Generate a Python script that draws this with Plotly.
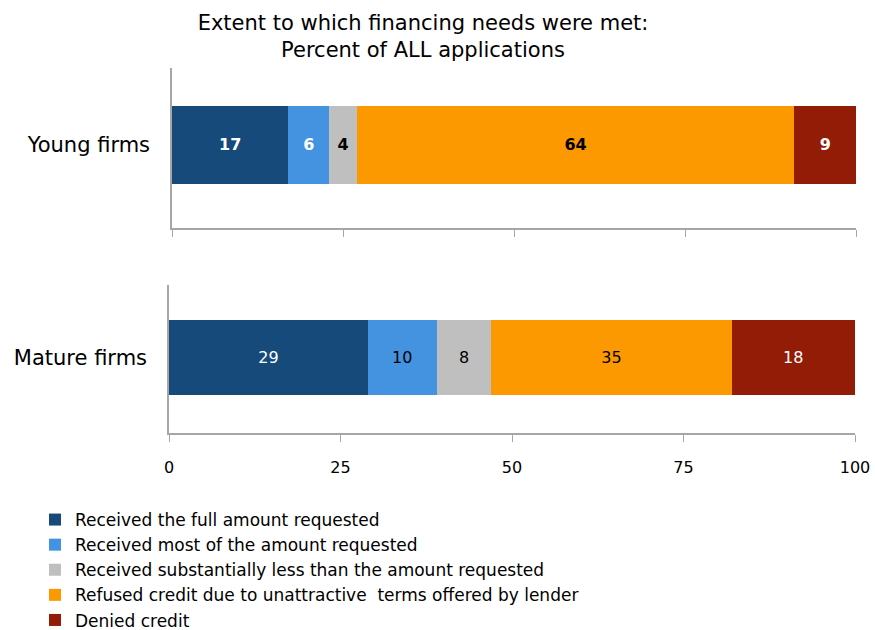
import plotly.graph_objects as go
from plotly.subplots import make_subplots

# Financing outcomes, percent of all applications
outcomes = [
    "Received the full amount requested",
    "Received most of the amount requested",
    "Received substantially less than the amount requested",
    "Refused credit due to unattractive  terms offered by lender",
    "Denied credit",
]
young_firms = [17, 6, 4, 64, 9]
mature_firms = [29, 10, 8, 35, 18]
x_ticks = [0, 25, 50, 75, 100]

colors = ["#164A7B", "#4393E0", "#BFBFBF", "#FD9900", "#921C06"]
young_text_colors = ["white", "white", "black", "black", "white"]
mature_text_colors = ["white", "black", "black", "black", "white"]

FONT = "DejaVu Sans"
W, H = 875, 630

fig = make_subplots(rows=2, cols=1)

for i, name in enumerate(outcomes):
    fig.add_trace(
        go.Bar(
            x=[young_firms[i]], y=["Young firms"], orientation="h",
            name=name, marker=dict(color=colors[i], line=dict(width=0)),
            width=0.4875, text=[young_firms[i]],
            texttemplate="<b>%{text}</b>", textposition="inside",
            insidetextanchor="middle", textangle=0,
            textfont=dict(family=FONT, size=16, color=young_text_colors[i]),
            legendgroup=f"g{i}", showlegend=True, hoverinfo="skip",
        ),
        row=1, col=1,
    )
    fig.add_trace(
        go.Bar(
            x=[mature_firms[i]], y=["Mature firms"], orientation="h",
            name=name, marker=dict(color=colors[i], line=dict(width=0)),
            width=0.507, text=[mature_firms[i]],
            texttemplate="%{text}", textposition="inside",
            insidetextanchor="middle", textangle=0,
            textfont=dict(family=FONT, size=16, color=mature_text_colors[i]),
            legendgroup=f"g{i}", showlegend=False, hoverinfo="skip",
        ),
        row=2, col=1,
    )


def px_x(p):
    return p / W


def px_y(p):
    return 1 - p / H


axis_common = dict(
    range=[0, 100], tickvals=x_ticks, ticks="outside", ticklen=7,
    tickcolor="#A6A6A6", showline=True, linecolor="#A6A6A6", linewidth=1.5,
    showgrid=False, zeroline=False, fixedrange=True, automargin=False,
)
yaxis_common = dict(
    showline=True, linecolor="#A6A6A6", linewidth=1.5, ticks="",
    showgrid=False, zeroline=False, ticklabelstandoff=16, automargin=False,
    tickfont=dict(family=FONT, size=21, color="black"), fixedrange=True,
)
fig.update_layout(
    xaxis=dict(axis_common, domain=[px_x(172), px_x(856)], showticklabels=False),
    xaxis2=dict(axis_common, domain=[px_x(169), px_x(855)], showticklabels=True,
                ticklabelstandoff=12,
                tickfont=dict(family=FONT, size=16, color="black")),
    yaxis=dict(yaxis_common, domain=[px_y(228), px_y(68)], range=[-0.519, 0.481]),
    yaxis2=dict(yaxis_common, domain=[px_y(433), px_y(285)], range=[-0.51, 0.49]),
)

fig.update_layout(
    barmode="stack",
    width=W, height=H,
    margin=dict(l=0, r=0, t=0, b=0, autoexpand=False),
    paper_bgcolor="white", plot_bgcolor="white",
    font=dict(family=FONT, color="black"),
    title=dict(
        text="Extent to which financing needs were met:<br>Percent of ALL applications",
        x=423 / W, xanchor="center", xref="paper",
        y=1 - 30 / H, yanchor="middle", yref="container",
        font=dict(family=FONT, size=21, color="black"),
    ),
    legend=dict(
        x=px_x(35), y=px_y(502), xanchor="left", yanchor="top",
        traceorder="grouped", tracegroupgap=0,
        font=dict(family=FONT, size=17, color="black"),
        bgcolor="rgba(0,0,0,0)", itemclick=False, itemdoubleclick=False,
    ),
)

fig.write_html("out.html")
